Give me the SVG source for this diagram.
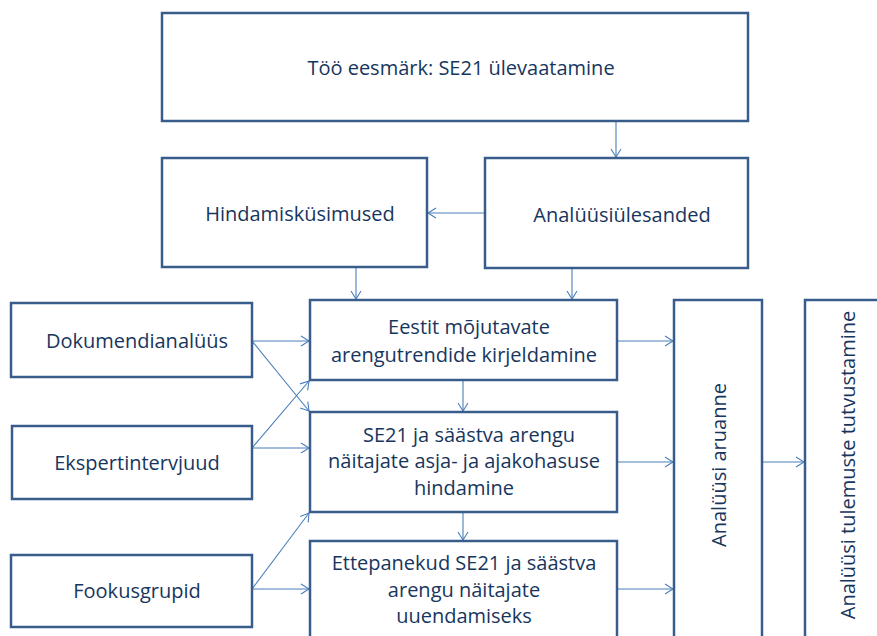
<svg xmlns="http://www.w3.org/2000/svg" width="877" height="636" viewBox="0 0 877 636">
<style>
.box{fill:#ffffff;stroke:#385d8a;stroke-width:2.5}
.t{font-family:"Open Sans","Liberation Sans",sans-serif;font-size:20px;fill:#17365d;text-anchor:middle}
.c{fill:none;stroke:#4a7ebb;stroke-width:1.1;marker-end:url(#ah)}
</style>
<defs>
<marker id="ah" markerUnits="userSpaceOnUse" markerWidth="12" markerHeight="14" viewBox="-10 -7 12 14" refX="0" refY="0" orient="auto">
<path d="M-8,-5 L0,0 L-8,5" fill="none" stroke="#4a7ebb" stroke-width="1.1"/>
</marker>
</defs>
<rect width="877" height="636" fill="#ffffff"/>
<g id="connectors">
<line class="c" x1="616" y1="121" x2="616" y2="157"/>
<line class="c" x1="485" y1="213" x2="428" y2="213"/>
<line class="c" x1="356" y1="267" x2="356" y2="299"/>
<line class="c" x1="572" y1="268" x2="572" y2="299"/>
<line class="c" x1="252" y1="341" x2="309" y2="341"/>
<line class="c" x1="252" y1="341" x2="309" y2="411"/>
<line class="c" x1="252" y1="448" x2="309" y2="448"/>
<line class="c" x1="252" y1="448" x2="309" y2="381"/>
<line class="c" x1="252" y1="589" x2="309" y2="589"/>
<line class="c" x1="252" y1="589" x2="309" y2="513"/>
<line class="c" x1="463" y1="380" x2="463" y2="411"/>
<line class="c" x1="463" y1="512" x2="463" y2="540"/>
<line class="c" x1="617" y1="341" x2="673" y2="341"/>
<line class="c" x1="617" y1="462" x2="673" y2="462"/>
<line class="c" x1="617" y1="589" x2="673" y2="589"/>
<line class="c" x1="762" y1="462" x2="804" y2="462"/>
</g>
<g id="goal">
<rect class="box" x="162" y="13" width="586" height="108"/>
<text class="t" x="461" y="75">Töö eesmärk: SE21 ülevaatamine</text>
</g>
<g id="hindamiskysimused">
<rect class="box" x="162" y="158" width="265" height="109"/>
<text class="t" x="300" y="221">Hindamisküsimused</text>
</g>
<g id="analyysiylesanded">
<rect class="box" x="485" y="158" width="263" height="110"/>
<text class="t" x="622" y="222">Analüüsiülesanded</text>
</g>
<g id="dokumendianalyys">
<rect class="box" x="11" y="303" width="241" height="74"/>
<text class="t" x="137" y="348">Dokumendianalüüs</text>
</g>
<g id="ekspertintervjuud">
<rect class="box" x="12" y="426" width="240" height="73"/>
<text class="t" x="137" y="470">Ekspertintervjuud</text>
</g>
<g id="fookusgrupid">
<rect class="box" x="11" y="555" width="241" height="72"/>
<text class="t" x="137" y="598">Fookusgrupid</text>
</g>
<g id="trendid">
<rect class="box" x="310" y="300" width="307" height="80"/>
<text class="t" x="469" y="334">Eestit mõjutavate</text>
<text class="t" x="464" y="362">arengutrendide kirjeldamine</text>
</g>
<g id="hindamine">
<rect class="box" x="310" y="412" width="307" height="100"/>
<text class="t" x="469" y="442">SE21 ja säästva arengu</text>
<text class="t" x="464" y="468">näitajate asja- ja ajakohasuse</text>
<text class="t" x="464" y="495">hindamine</text>
</g>
<g id="ettepanekud">
<rect class="box" x="310" y="541" width="307" height="110"/>
<text class="t" x="464" y="570">Ettepanekud SE21 ja säästva</text>
<text class="t" x="464" y="597">arengu näitajate</text>
<text class="t" x="464" y="623">uuendamiseks</text>
</g>
<g id="aruanne">
<rect class="box" x="674" y="300" width="88" height="350"/>
<text class="t" transform="translate(726,465) rotate(-90)">Analüüsi aruanne</text>
</g>
<g id="tutvustamine">
<rect class="box" x="805" y="300" width="100" height="350"/>
<text class="t" transform="translate(855,465) rotate(-90)">Analüüsi tulemuste tutvustamine</text>
</g>
</svg>
